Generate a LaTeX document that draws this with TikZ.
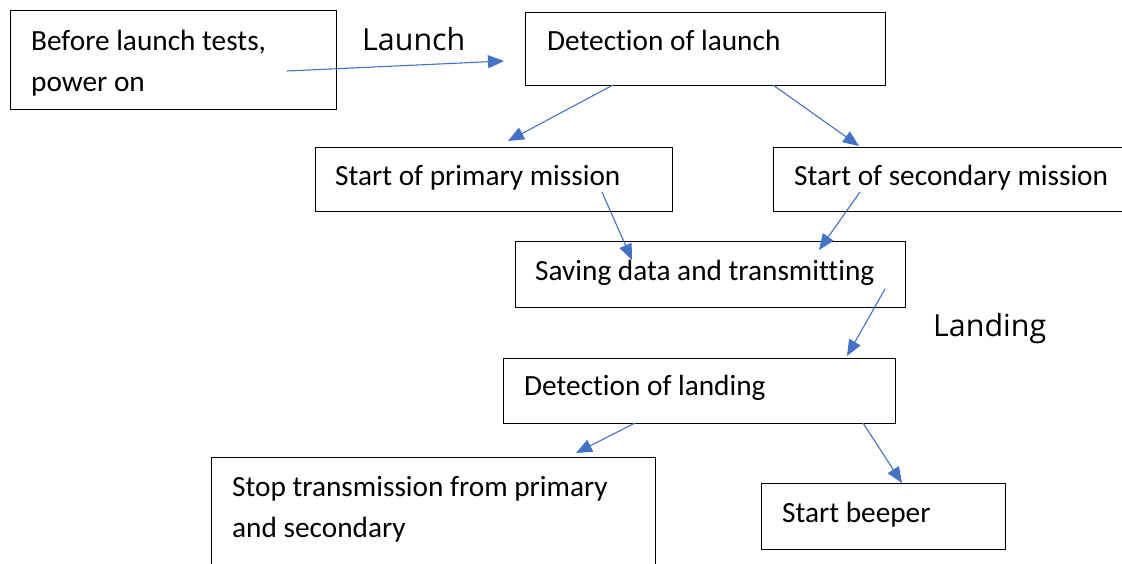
\documentclass[tikz,border=0pt]{standalone}
\usepackage{fontspec}
\setmainfont{Carlito}[Ligatures=NoCommon]
\newfontfamily\labelfont{Open Sans}
\usetikzlibrary{arrows.meta,calc}
\definecolor{arrowblue}{RGB}{68,114,196}
\begin{document}
\begin{tikzpicture}[x=1pt,y=-1pt,
  box/.style={draw=black, line width=1.1pt, anchor=north west, inner sep=0pt},
  txt/.style={anchor=base west, inner sep=0pt, align=left,
              font=\fontsize{29.3}{41}\selectfont},
  tag/.style={anchor=base west, inner sep=0pt,
              font=\labelfont\fontsize{30.4}{36}\selectfont},
  flow/.style={draw=arrowblue, line width=1.1pt,
               -{Triangle[length=16pt,width=13pt]}}]

% canvas
\path[use as bounding box] (0,0) rectangle (1122,563);
\fill[white] (0,0) rectangle (1122,563);
\clip (0,0) rectangle (1122,563);

% process boxes
\node[box, minimum width=326pt, minimum height=99pt] (pre)     at (10,10)   {};
\node[box, minimum width=360pt, minimum height=73pt] (detl)    at (525,12)  {};
\node[box, minimum width=357pt, minimum height=64pt] (prim)    at (315,147) {};
\node[box, minimum width=370pt, minimum height=64pt] (sec)     at (773,147) {};
\node[box, minimum width=390pt, minimum height=66pt] (save)    at (515,241) {};
\node[box, minimum width=392pt, minimum height=65pt] (detland) at (503,358) {};
\node[box, minimum width=444pt, minimum height=130pt] (stop)   at (211,457) {};
\node[box, minimum width=244pt, minimum height=66pt] (beep)    at (761,483) {};

% box texts (base anchor sits on the last line of a two-line text)
\node[txt] (pre-t)     at ($(pre.north west)+(21,81)$)       {Before launch tests,\\power on};
\node[txt] (detl-t)    at ($(detl.north west)+(22,38)$)      {Detection of launch};
\node[txt] (prim-t)    at ($(prim.north west)+(20,38)$)      {Start of primary mission};
\node[txt] (sec-t)     at ($(sec.north west)+(21,38)$)       {Start of secondary mission};
\node[txt] (save-t)    at ($(save.north west)+(20,39)$)      {Saving data and transmitting};
\node[txt] (detland-t) at ($(detland.north west)+(21,37)$)   {Detection of landing};
\node[txt] (stop-t)    at ($(stop.north west)+(21,80)$)      {Stop transmission from primary\\and secondary};
\node[txt] (beep-t)    at ($(beep.north west)+(21,39)$)      {Start beeper};

% phase labels
\node[tag] (launch)  at (362,50)  {Launch};
\node[tag] (landing) at (933,336) {Landing};

% connector ends
\coordinate (pre-out)      at (287,71);
\coordinate (detl-in)      at (504,61);
\coordinate (detl-outl)    at (613,85);
\coordinate (prim-in)      at (508,141);
\coordinate (detl-outr)    at (773,85);
\coordinate (sec-in)       at (859,146);
\coordinate (prim-out)     at (602,192);
\coordinate (save-inl)     at (632,260);
\coordinate (sec-out)      at (860,192);
\coordinate (save-inr)     at (819,250);
\coordinate (save-out)     at (885,289);
\coordinate (detland-in)   at (847,356);
\coordinate (detland-outl) at (635,423);
\coordinate (stop-in)      at (576,453);
\coordinate (detland-outr) at (863,423);
\coordinate (beep-in)      at (902,483);

% connectors
\draw[flow] (pre-out)      -- (detl-in);
\draw[flow] (detl-outl)    -- (prim-in);
\draw[flow] (detl-outr)    -- (sec-in);
\draw[flow] (prim-out)     -- (save-inl);
\draw[flow] (sec-out)      -- (save-inr);
\draw[flow] (save-out)     -- (detland-in);
\draw[flow] (detland-outl) -- (stop-in);
\draw[flow] (detland-outr) -- (beep-in);
\end{tikzpicture}
\end{document}
